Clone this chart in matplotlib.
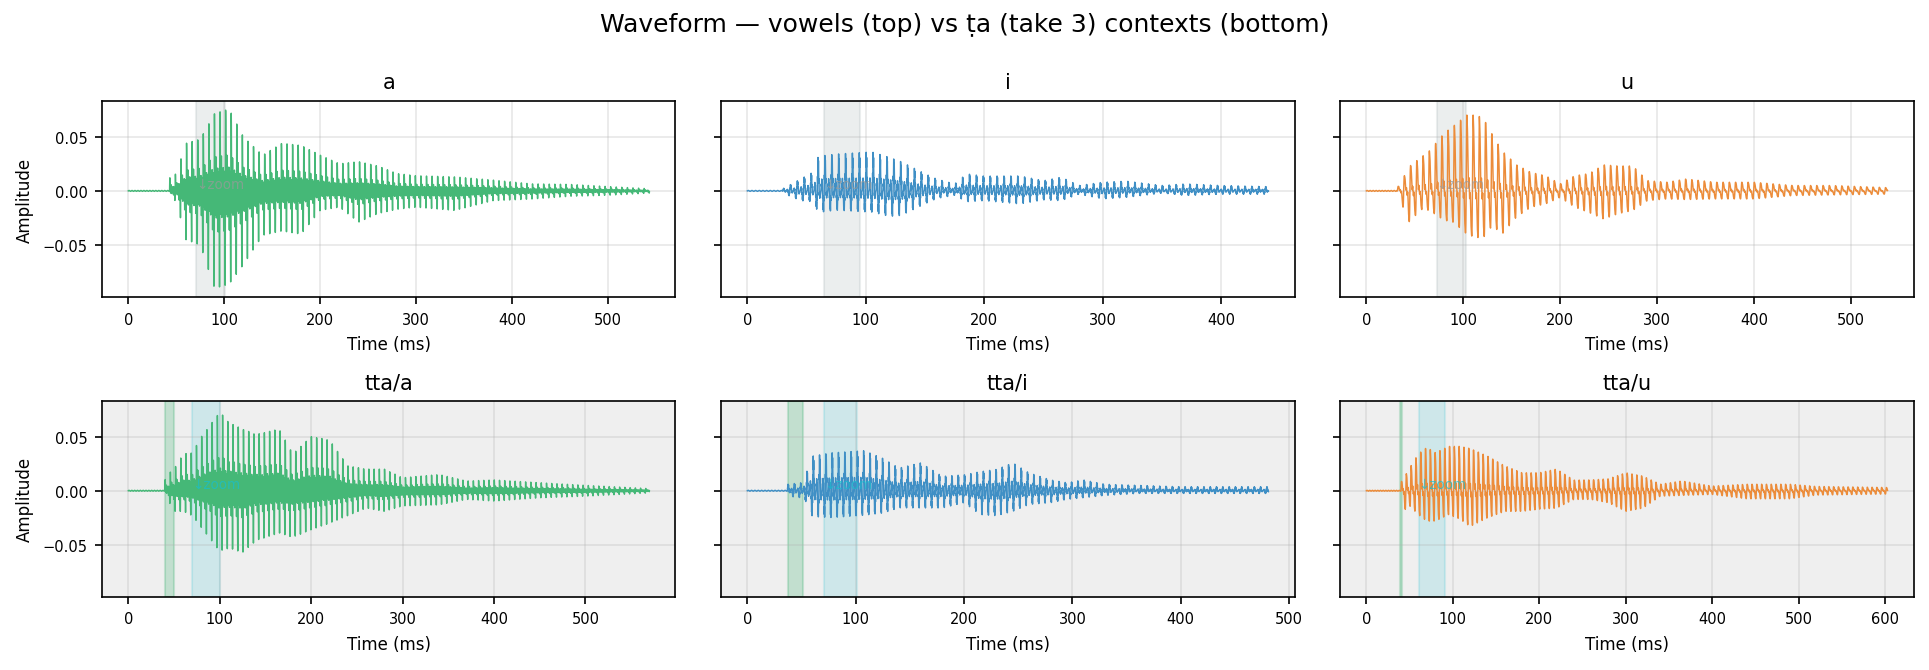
import numpy as np
import matplotlib.pyplot as plt

# panel order: a, i, u, tta/a, tta/i, tta/u
titles = ["a", "i", "u", "tta/a", "tta/i", "tta/u"]
colors = ["#45b877", "#3f8fc5", "#ec8c3a", "#45b877", "#3f8fc5", "#ec8c3a"]
durations_ms = [543, 440, 538, 570, 481, 603]
onsets_ms = [43, 30, 32, 40, 37, 40]
pitch_hz = [172, 172, 155, 175, 172, 180]

# harmonic number -> relative strength, per vowel
harmonics = {
    "a": {1: 0.3, 2: 0.45, 3: 0.6, 4: 1.0, 5: 0.8, 7: 0.45, 8: 0.35, 15: 0.2},
    "i": {1: 0.5, 2: 1.0, 3: 0.3, 13: 0.25, 14: 0.2},
    "u": {1: 1.0, 2: 0.7, 3: 0.25, 5: 0.15},
}

# amplitude envelopes: time (ms), upper peak, lower peak
a_t = [43, 50, 60, 75, 90, 105, 120, 140, 160, 180, 200, 220, 240, 260, 280, 300, 340, 380, 420, 460, 500, 543]
a_up = [0.012, 0.016, 0.044, 0.048, 0.072, 0.076, 0.050, 0.033, 0.044, 0.042, 0.033, 0.025, 0.027, 0.023, 0.016, 0.014, 0.013, 0.010, 0.0065, 0.006, 0.004, 0.002]
a_lo = [-0.008, -0.009, -0.045, -0.050, -0.090, -0.086, -0.068, -0.041, -0.037, -0.040, -0.018, -0.015, -0.029, -0.021, -0.017, -0.015, -0.018, -0.009, -0.0075, -0.005, -0.004, -0.002]

i_t = [30, 45, 55, 60, 75, 105, 120, 130, 150, 160, 175, 185, 200, 230, 250, 265, 280, 300, 320, 350, 370, 400, 440]
i_up = [0.002, 0.011, 0.017, 0.032, 0.034, 0.036, 0.031, 0.027, 0.016, 0.011, 0.0065, 0.016, 0.014, 0.014, 0.0095, 0.0127, 0.005, 0.008, 0.009, 0.005, 0.0065, 0.005, 0.004]
i_lo = [-0.002, -0.009, -0.010, -0.020, -0.018, -0.020, -0.024, -0.023, -0.012, -0.007, -0.004, -0.010, -0.009, -0.012, -0.0083, -0.009, -0.003, -0.0074, -0.006, -0.002, -0.0043, -0.003, -0.003]

u_t = [32, 45, 55, 65, 80, 90, 105, 120, 130, 140, 155, 170, 185, 200, 215, 230, 245, 260, 275, 290, 310, 330, 360, 400, 440, 480, 538]
u_up = [0.003, 0.023, 0.030, 0.037, 0.053, 0.060, 0.071, 0.068, 0.052, 0.037, 0.024, 0.017, 0.014, 0.0065, 0.014, 0.016, 0.024, 0.023, 0.023, 0.0095, 0.008, 0.011, 0.008, 0.008, 0.005, 0.005, 0.003]
u_lo = [-0.003, -0.030, -0.017, -0.018, -0.027, -0.029, -0.041, -0.044, -0.032, -0.040, -0.024, -0.015, -0.012, -0.006, -0.015, -0.020, -0.026, -0.021, -0.018, -0.009, -0.0074, -0.008, -0.0074, -0.0074, -0.0043, -0.0037, -0.003]

ta_t = [40, 45, 50, 60, 70, 80, 90, 100, 110, 125, 140, 165, 180, 200, 220, 240, 260, 280, 300, 340, 370, 400, 450, 500, 570]
ta_up = [0.010, 0.0166, 0.020, 0.034, 0.035, 0.050, 0.061, 0.073, 0.063, 0.057, 0.052, 0.057, 0.034, 0.050, 0.047, 0.023, 0.020, 0.020, 0.012, 0.015, 0.009, 0.010, 0.0074, 0.005, 0.002]
ta_lo = [-0.006, -0.011, -0.019, -0.019, -0.023, -0.034, -0.045, -0.056, -0.053, -0.057, -0.046, -0.039, -0.043, -0.036, -0.030, -0.023, -0.016, -0.019, -0.014, -0.013, -0.008, -0.0095, -0.0065, -0.005, -0.002]

ti_t = [37, 50, 55, 60, 78, 108, 125, 140, 160, 180, 200, 215, 230, 245, 260, 280, 295, 310, 330, 360, 400, 481]
ti_up = [0.006, 0.0074, 0.018, 0.032, 0.035, 0.037, 0.030, 0.021, 0.026, 0.0135, 0.015, 0.018, 0.020, 0.026, 0.0166, 0.010, 0.0074, 0.010, 0.006, 0.005, 0.0037, 0.0037]
ti_lo = [-0.005, -0.0065, -0.011, -0.024, -0.025, -0.023, -0.021, -0.016, -0.016, -0.016, -0.011, -0.022, -0.023, -0.019, -0.0126, -0.011, -0.008, -0.0065, -0.0043, -0.0025, -0.0025, -0.0025]

tu_t = [40, 42, 50, 60, 70, 80, 95, 108, 120, 140, 160, 180, 200, 220, 240, 260, 280, 300, 320, 340, 365, 400, 440, 490, 520, 603]
tu_up = [0.008, 0.010, 0.021, 0.034, 0.040, 0.035, 0.041, 0.041, 0.039, 0.032, 0.023, 0.0166, 0.0166, 0.020, 0.0098, 0.010, 0.011, 0.0166, 0.0135, 0.006, 0.009, 0.0043, 0.006, 0.006, 0.004, 0.003]
tu_lo = [-0.010, -0.019, -0.014, -0.022, -0.028, -0.028, -0.022, -0.026, -0.033, -0.025, -0.019, -0.019, -0.017, -0.016, -0.008, -0.008, -0.011, -0.019, -0.016, -0.005, -0.0043, -0.0034, -0.0074, -0.0074, -0.004, -0.003]

envelopes = [(a_t, a_up, a_lo), (i_t, i_up, i_lo), (u_t, u_up, u_lo),
             (ta_t, ta_up, ta_lo), (ti_t, ti_up, ti_lo), (tu_t, tu_up, tu_lo)]

# zoom windows (ms)
zoom_top = [(71, 101), (64.5, 95), (72.5, 102.3)]
burst_bottom = [(39.8, 50.2), (37.2, 51), (38.5, 41.7)]
zoom_bottom = [(70.1, 100.8), (70.5, 100.8), (60.3, 91.1)]

fs = 16000


def voiced_shape(t_ms, onset, f0, harm):
    # periodic harmonic sum, normalised so the peaks sit at +1 / -1
    phase = 2 * np.pi * f0 * (t_ms - onset) / 1000.0
    sig = sum(g * np.sin(n * phase) for n, g in harm.items())
    sig = np.where(t_ms >= onset, sig, 0.0)
    return np.where(sig > 0, sig / sig.max(), sig / -sig.min())


fig, axes = plt.subplots(2, 3, figsize=(12.86, 4.473), dpi=150, sharey=True)
fig.subplots_adjust(left=0.053, right=0.992, top=0.848, bottom=0.109, wspace=0.08, hspace=0.53)

for k, ax in enumerate(axes.flat):
    vowel = titles[k][-1]
    t_ms = np.arange(0, durations_ms[k], 1000.0 / fs)
    env_t, env_up, env_lo = envelopes[k]
    shape = voiced_shape(t_ms, onsets_ms[k], pitch_hz[k], harmonics[vowel])
    up = np.interp(t_ms, env_t, env_up, left=0, right=env_up[-1])
    lo = np.interp(t_ms, env_t, env_lo, left=0, right=env_lo[-1])
    wave = np.where(shape > 0, shape * up, -shape * lo)
    # faint background hum before the onset
    wave += 0.0004 * np.sin(2 * np.pi * t_ms / 3.1) * (t_ms < onsets_ms[k])

    row, col = divmod(k, 3)
    if row == 0:
        z0, z1 = zoom_top[col]
        ax.axvspan(z0, z1, color="#95a5a6", alpha=0.18, zorder=0)
        ax.text(z0, 0.0, "↓zoom", fontsize=6.5, color="#9a9a9a", alpha=0.7,
                va="bottom", ha="left", zorder=3)
    else:
        ax.set_facecolor("#efefef")
        b0, b1 = burst_bottom[col]
        z0, z1 = zoom_bottom[col]
        ax.axvspan(b0, b1, color="mediumseagreen", alpha=0.25, zorder=0)
        ax.axvspan(z0, z1, color="tab:cyan", alpha=0.15, zorder=0)
        ax.text(z0, 0.0, "↓zoom", fontsize=6.5, color="tab:cyan", alpha=0.7,
                va="bottom", ha="left", zorder=3)

    ax.plot(t_ms, wave, color=colors[k], lw=0.7, zorder=2)
    ax.set_title(titles[k], fontsize=10)
    ax.set_xlabel("Time (ms)", fontsize=8)
    ax.tick_params(labelsize=7)
    ax.grid(True, alpha=0.3)
    if col == 0:
        ax.set_ylabel("Amplitude", fontsize=8)

axes[0, 0].set_ylim(-0.098, 0.083)
axes[0, 0].set_yticks([-0.05, 0.0, 0.05])

fig.suptitle("Waveform — vowels (top) vs ṭa (take 3) contexts (bottom)", fontsize=12, y=0.963, va="center")
fig.savefig("out.png", dpi=150)
